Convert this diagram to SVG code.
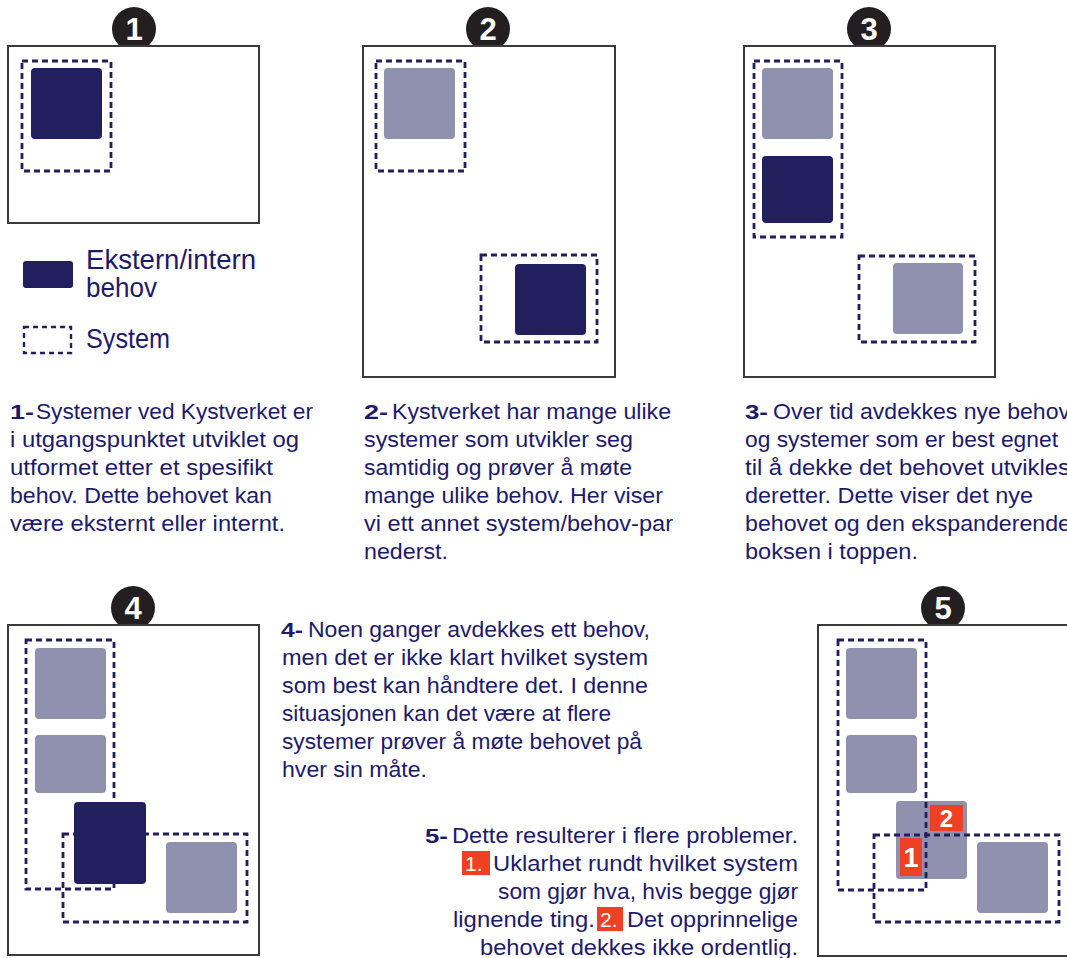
<svg xmlns="http://www.w3.org/2000/svg" width="1067" height="958" viewBox="0 0 1067 958">
<style>
.frame{fill:#fff;stroke:#3a3a3a;stroke-width:2}
.sys{fill:none;stroke:#221f5e;stroke-width:2.8;stroke-dasharray:6 4}
.dark{fill:#221f5e}
.light{fill:#9091ae}
.badge{fill:#231f20}
.num{fill:#fff;font-family:"Liberation Sans",sans-serif;font-weight:bold;font-size:31px;text-anchor:middle}
.t{fill:#1d1a6b;font-family:"Liberation Sans Narrow","Liberation Sans",sans-serif;font-size:22px}
.p{fill:#1d1a6b;font-family:"Liberation Sans",sans-serif;font-weight:bold;font-size:21px}
.leg{fill:#1d1a6b;font-family:"Liberation Sans Narrow","Liberation Sans",sans-serif;font-size:28px}
.red{fill:#ee4123}
.wt{fill:#fff;font-family:"Liberation Sans Narrow","Liberation Sans",sans-serif;font-size:21px}
.wb{fill:#fff;font-family:"Liberation Sans",sans-serif;font-weight:bold;font-size:24px;text-anchor:middle}
</style>

<g id="panel1">
  <circle class="badge" cx="134" cy="29" r="22"/>
  <text class="num" x="134" y="40">1</text>
  <rect class="frame" x="8" y="46" width="251" height="177"/>
  <rect class="dark" x="31" y="68" width="71" height="71" rx="4"/>
  <rect class="sys" x="22" y="61" width="89" height="110"/>
</g>

<g id="legend">
  <rect class="dark" x="23" y="261" width="50" height="27" rx="3"/>
  <text class="leg" x="86" y="269" textLength="170" lengthAdjust="spacingAndGlyphs">Ekstern/intern</text>
  <text class="leg" x="86" y="297" textLength="71" lengthAdjust="spacingAndGlyphs">behov</text>
  <rect class="sys" x="24" y="327" width="47" height="26" style="stroke-width:2.4;stroke-dasharray:5 4"/>
  <text class="leg" x="86" y="348" textLength="84" lengthAdjust="spacingAndGlyphs">System</text>
</g>

<g id="panel2">
  <circle class="badge" cx="488" cy="29" r="22"/>
  <text class="num" x="488" y="40">2</text>
  <rect class="frame" x="363" y="46" width="252" height="331"/>
  <rect class="light" x="384" y="68" width="71" height="71" rx="4"/>
  <rect class="sys" x="376" y="61" width="89" height="110"/>
  <rect class="dark" x="515" y="264" width="71" height="71" rx="4"/>
  <rect class="sys" x="481" y="255" width="116" height="87"/>
</g>

<g id="panel3">
  <circle class="badge" cx="869" cy="29" r="22"/>
  <text class="num" x="869" y="40">3</text>
  <rect class="frame" x="744" y="46" width="251" height="331"/>
  <rect class="light" x="762" y="68" width="71" height="71" rx="4"/>
  <rect class="dark" x="762" y="156" width="71" height="67" rx="4"/>
  <rect class="sys" x="754" y="61" width="88" height="176"/>
  <rect class="light" x="893" y="263" width="70" height="71" rx="4"/>
  <rect class="sys" x="859" y="256" width="116" height="86"/>
</g>

<g id="panel4">
  <circle class="badge" cx="133" cy="608" r="22"/>
  <text class="num" x="133" y="619">4</text>
  <rect class="frame" x="8" y="625" width="251" height="330"/>
  <rect class="light" x="35" y="648" width="71" height="71" rx="4"/>
  <rect class="light" x="35" y="735" width="71" height="58" rx="4"/>
  <rect class="sys" x="26" y="640" width="88" height="249"/>
  <rect class="light" x="166" y="842" width="71" height="71" rx="4"/>
  <rect class="sys" x="63" y="834" width="184" height="88"/>
  <rect class="dark" x="74" y="802" width="72" height="82" rx="4"/>
</g>

<g id="panel5">
  <circle class="badge" cx="943" cy="608" r="22"/>
  <text class="num" x="943" y="619">5</text>
  <rect class="frame" x="818" y="625" width="260" height="331"/>
  <rect class="light" x="846" y="648" width="71" height="71" rx="4"/>
  <rect class="light" x="846" y="735" width="71" height="58" rx="4"/>
  <rect class="light" x="896" y="801" width="71" height="78" rx="4"/>
  <rect class="light" x="977" y="842" width="71" height="71" rx="4"/>
  <rect class="sys" x="838" y="640" width="88" height="250"/>
  <rect class="sys" x="874" y="835" width="185" height="87"/>
  <rect class="red" x="930" y="805" width="33" height="26"/>
  <text class="wb" x="946.5" y="827">2</text>
  <rect class="red" x="900" y="838" width="22" height="38"/>
  <text class="wb" x="911" y="867" style="font-size:27px">1</text>
</g>

<g id="text1">
  <text class="p" x="10" y="419" textLength="24" lengthAdjust="spacingAndGlyphs">1-</text>
  <text class="t" x="36" y="419" textLength="277" lengthAdjust="spacingAndGlyphs">Systemer ved Kystverket er</text>
  <text class="t" x="10" y="447" textLength="289" lengthAdjust="spacingAndGlyphs">i utgangspunktet utviklet og</text>
  <text class="t" x="10" y="475" textLength="263" lengthAdjust="spacingAndGlyphs">utformet etter et spesifikt</text>
  <text class="t" x="10" y="503" textLength="262" lengthAdjust="spacingAndGlyphs">behov. Dette behovet kan</text>
  <text class="t" x="10" y="531" textLength="275" lengthAdjust="spacingAndGlyphs">være eksternt eller internt.</text>
</g>

<g id="text2">
  <text class="p" x="364" y="419" textLength="24" lengthAdjust="spacingAndGlyphs">2-</text>
  <text class="t" x="392" y="419" textLength="279" lengthAdjust="spacingAndGlyphs">Kystverket har mange ulike</text>
  <text class="t" x="364" y="447" textLength="269" lengthAdjust="spacingAndGlyphs">systemer som utvikler seg</text>
  <text class="t" x="364" y="475" textLength="268" lengthAdjust="spacingAndGlyphs">samtidig og prøver å møte</text>
  <text class="t" x="364" y="503" textLength="299" lengthAdjust="spacingAndGlyphs">mange ulike behov. Her viser</text>
  <text class="t" x="364" y="531" textLength="309" lengthAdjust="spacingAndGlyphs">vi ett annet system/behov-par</text>
  <text class="t" x="364" y="559" textLength="84" lengthAdjust="spacingAndGlyphs">nederst.</text>
</g>

<g id="text3">
  <text class="p" x="745" y="419" textLength="23" lengthAdjust="spacingAndGlyphs">3-</text>
  <text class="t" x="773" y="419" textLength="297" lengthAdjust="spacingAndGlyphs">Over tid avdekkes nye behov</text>
  <text class="t" x="745" y="447" textLength="313" lengthAdjust="spacingAndGlyphs">og systemer som er best egnet</text>
  <text class="t" x="745" y="475" textLength="325" lengthAdjust="spacingAndGlyphs">til å dekke det behovet utvikles</text>
  <text class="t" x="745" y="503" textLength="288" lengthAdjust="spacingAndGlyphs">deretter. Dette viser det nye</text>
  <text class="t" x="745" y="531" textLength="326" lengthAdjust="spacingAndGlyphs">behovet og den ekspanderende</text>
  <text class="t" x="745" y="559" textLength="173" lengthAdjust="spacingAndGlyphs">boksen i toppen.</text>
</g>

<g id="text4">
  <text class="p" x="281" y="637" textLength="22" lengthAdjust="spacingAndGlyphs">4-</text>
  <text class="t" x="308" y="637" textLength="342" lengthAdjust="spacingAndGlyphs">Noen ganger avdekkes ett behov,</text>
  <text class="t" x="282" y="665" textLength="366" lengthAdjust="spacingAndGlyphs">men det er ikke klart hvilket system</text>
  <text class="t" x="282" y="693" textLength="366" lengthAdjust="spacingAndGlyphs">som best kan håndtere det. I denne</text>
  <text class="t" x="282" y="721" textLength="329" lengthAdjust="spacingAndGlyphs">situasjonen kan det være at flere</text>
  <text class="t" x="282" y="749" textLength="360" lengthAdjust="spacingAndGlyphs">systemer prøver å møte behovet på</text>
  <text class="t" x="282" y="777" textLength="145" lengthAdjust="spacingAndGlyphs">hver sin måte.</text>
</g>

<g id="text5">
  <text class="p" x="425" y="843" textLength="23" lengthAdjust="spacingAndGlyphs">5-</text>
  <text class="t" x="452" y="843" textLength="346" lengthAdjust="spacingAndGlyphs">Dette resulterer i flere problemer.</text>
  <rect class="red" x="462" y="851" width="28" height="24"/>
  <text class="wt" x="465" y="871">1.</text>
  <text class="t" x="493" y="871" textLength="305" lengthAdjust="spacingAndGlyphs">Uklarhet rundt hvilket system</text>
  <text class="t" x="498" y="899" textLength="300" lengthAdjust="spacingAndGlyphs">som gjør hva, hvis begge gjør</text>
  <text class="t" x="453" y="927" textLength="142" lengthAdjust="spacingAndGlyphs">lignende ting.</text>
  <rect class="red" x="597" y="907" width="26" height="24"/>
  <text class="wt" x="600" y="927">2.</text>
  <text class="t" x="627" y="927" textLength="171" lengthAdjust="spacingAndGlyphs">Det opprinnelige</text>
  <text class="t" x="480" y="955" textLength="318" lengthAdjust="spacingAndGlyphs">behovet dekkes ikke ordentlig.</text>
</g>
</svg>
